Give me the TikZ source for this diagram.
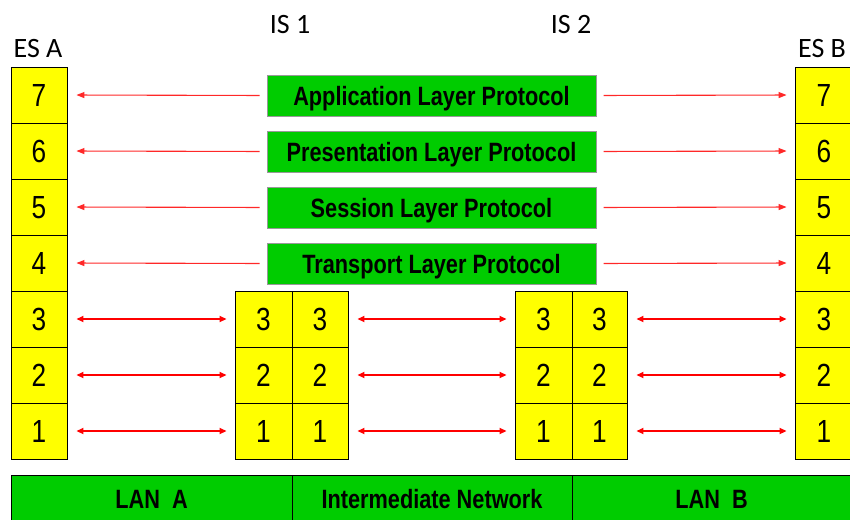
\documentclass[tikz,border=0pt]{standalone}
\usepackage{fontspec}
\setmainfont{Liberation Sans}
\newfontfamily\narrowfont{Liberation Sans}[FakeStretch=0.82]
\newfontfamily\labelfont{Carlito}
\usetikzlibrary{arrows.meta}
\definecolor{boxyellow}{RGB}{255,255,0}
\definecolor{boxgreen}{RGB}{0,204,0}
\definecolor{arrred}{RGB}{255,0,0}
\definecolor{thinred}{RGB}{255,40,40}
\tikzset{
  cell/.style={draw=black, line width=0.9pt, fill=boxyellow, inner sep=0pt,
    minimum width=56pt, minimum height=56pt,
    font=\narrowfont\fontsize{32}{34}\selectfont, text height=23pt, text depth=0pt},
  protobox/.style={draw=black!40, line width=1pt, fill=boxgreen, inner sep=0pt,
    minimum width=329pt, minimum height=41pt,
    font=\narrowfont\bfseries\fontsize{26.5}{30}\selectfont, text height=19pt, text depth=0pt},
  netbox/.style={draw=black, line width=1pt, fill=boxgreen, inner sep=0pt,
    minimum height=47pt,
    font=\narrowfont\bfseries\fontsize{26.5}{30}\selectfont, text height=19pt, text depth=0pt},
  toplabel/.style={inner sep=0pt, anchor=base, font=\labelfont\fontsize{28}{30}\selectfont},
  thinarrow/.style={draw=thinred, line width=1.1pt, -{Triangle[length=8pt,width=6pt]}},
  thickarrow/.style={draw=arrred, line width=1.8pt, {Triangle[length=7pt,width=6pt]}-{Triangle[length=7pt,width=6pt]}},
}
\begin{document}
\begin{tikzpicture}[x=1pt,y=-1pt]
\useasboundingbox (0,0) rectangle (850,519);
\fill[white] (0,0) rectangle (850,519);

% top labels
\node[toplabel] (lesa) at (38,57) {ES A};
\node[toplabel] (lis1) at (290,34) {IS 1};
\node[toplabel] (lis2) at (571,34) {IS 2};
\node[toplabel] (lesb) at (822,57) {ES B};

% ES A and ES B columns
\foreach \k in {7,...,1}{
  \pgfmathsetmacro{\yy}{95+(7-\k)*56}
  \node[cell] (a\k) at (39,\yy) {\k};
  \node[cell, minimum width=58pt] (b\k) at (824,\yy) {\k};
}

% IS 1 and IS 2
\foreach \k in {3,2,1}{
  \pgfmathsetmacro{\yy}{95+(7-\k)*56}
  \node[cell, minimum width=57pt] (ia\k) at (263.5,\yy) {\k};
  \node[cell] (ib\k) at (320,\yy) {\k};
  \node[cell, minimum width=57pt] (ja\k) at (543.5,\yy) {\k};
  \node[cell, minimum width=55pt] (jb\k) at (599.5,\yy) {\k};
}

% protocol boxes
\node[protobox] (p7) at (431.5,95.5) {Application Layer Protocol};
\node[protobox] (p6) at (431.5,151.5) {Presentation Layer Protocol};
\node[protobox] (p5) at (431.5,207.5) {Session Layer Protocol};
\node[protobox] (p4) at (431.5,263.5) {Transport Layer Protocol};

% thin arrows for upper layers
\foreach \k in {7,6,5,4}{
  \draw[thinarrow, shorten <=7pt, shorten >=9pt] (p\k.west) -- (a\k.east);
  \draw[thinarrow, shorten <=7pt, shorten >=8pt] (p\k.east) -- (b\k.west);
}

% thick double arrows for lower layers
\foreach \k in {3,2,1}{
  \draw[thickarrow, shorten <=9pt, shorten >=8pt] (a\k.east) -- (ia\k.west);
  \draw[thickarrow, shorten <=9pt, shorten >=8pt] (ib\k.east) -- (ja\k.west);
  \draw[thickarrow, shorten <=9pt, shorten >=8pt] (jb\k.east) -- (b\k.west);
}

% bottom networks
\node[netbox, minimum width=281pt] (lana) at (151.5,498.5) {LAN\ \ A};
\node[netbox, minimum width=280pt] (inet) at (432,498.5) {Intermediate Network};
\node[netbox, minimum width=279pt] (lanb) at (711.5,498.5) {LAN\ \ B};
\end{tikzpicture}
\end{document}
